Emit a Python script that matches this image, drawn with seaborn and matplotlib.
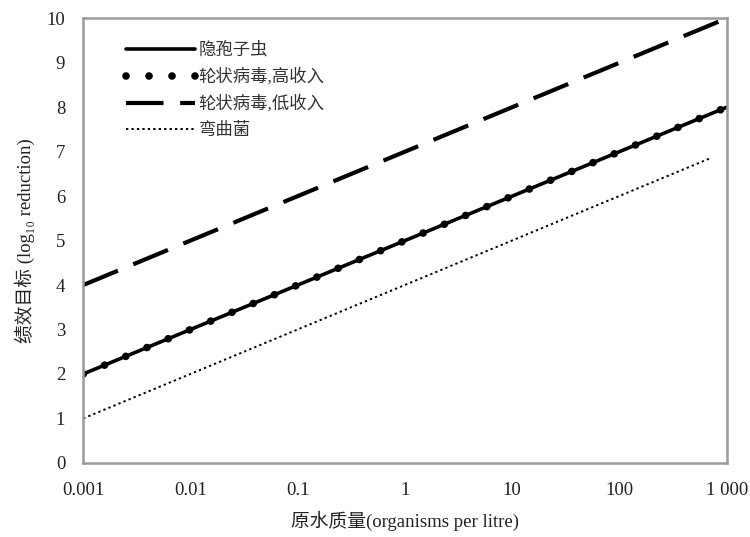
import matplotlib
matplotlib.use("Agg")
import matplotlib.pyplot as plt
import seaborn as sns
import pandas as pd

# --- Data ---
series_names = ["隐孢子虫", "轮状病毒,高收入", "轮状病毒,低收入", "弯曲菌"]
crypto_x = [0.001, 1000]
crypto_y = [2, 8]
rota_high_x = [0.001, 1000]
rota_high_y = [2, 8]
rota_low_x = [0.001, 1000]
rota_low_y = [4, 10]
campy_x = [0.001, 700]
campy_y = [1, 6.85]

x_ticks = [0.001, 0.01, 0.1, 1, 10, 100, 1000]
x_tick_labels = ["0.001", "0.01", "0.1", "1", "10", "100", "1 000"]
y_ticks = list(range(0, 11))

sns.set_theme(style="white")
plt.rcParams["font.family"] = ["Liberation Serif", "Noto Sans CJK SC"]
plt.rcParams["axes.unicode_minus"] = False

fig = plt.figure(figsize=(7.5, 5.37), dpi=100)
ax = fig.add_axes([0.111, 0.138, 0.858, 0.828])

styles = [
    dict(linestyle="-", linewidth=2.6),
    dict(linestyle=(0, (0.01, 3.0)), linewidth=5.5, dash_capstyle="round"),
    dict(linestyle=(0, (9, 4)), linewidth=3.0),
    dict(linestyle=(0, (1.2, 1.6)), linewidth=1.4),
]
data = [(crypto_x, crypto_y), (rota_high_x, rota_high_y),
        (rota_low_x, rota_low_y), (campy_x, campy_y)]

for name, (xs, ys), st in zip(series_names, data, styles):
    df = pd.DataFrame({"x": xs, "y": ys})
    sns.lineplot(data=df, x="x", y="y", ax=ax, color="black", label=name, **st)

ax.set_xscale("log")
ax.set_xlim(0.001, 1000)
ax.set_ylim(0, 10)
ax.set_xticks(x_ticks)
ax.set_xticklabels(x_tick_labels)
ax.set_yticks(y_ticks)
ax.minorticks_off()
ax.tick_params(axis="both", length=0, labelsize=13.5, colors="#222222")
ax.tick_params(axis="y", pad=13)
ax.tick_params(axis="x", pad=14)

for sp in ax.spines.values():
    sp.set_color("#9a9a9a")
    sp.set_linewidth(1.8)

ax.set_xlabel("原水质量(organisms per litre)", fontsize=13.5, labelpad=8, color="#222222")
ax.set_ylabel("绩效目标 (log₁₀ reduction)", fontsize=13.5, labelpad=8, color="#222222")

leg = ax.legend(loc="upper left", bbox_to_anchor=(0.05, 0.97), frameon=False,
                fontsize=12.5, handlelength=4.0, handletextpad=0.2,
                labelspacing=0.55, borderaxespad=0.2)
for t in leg.get_texts():
    t.set_color("#333333")

fig.savefig("out.png", dpi=100)
